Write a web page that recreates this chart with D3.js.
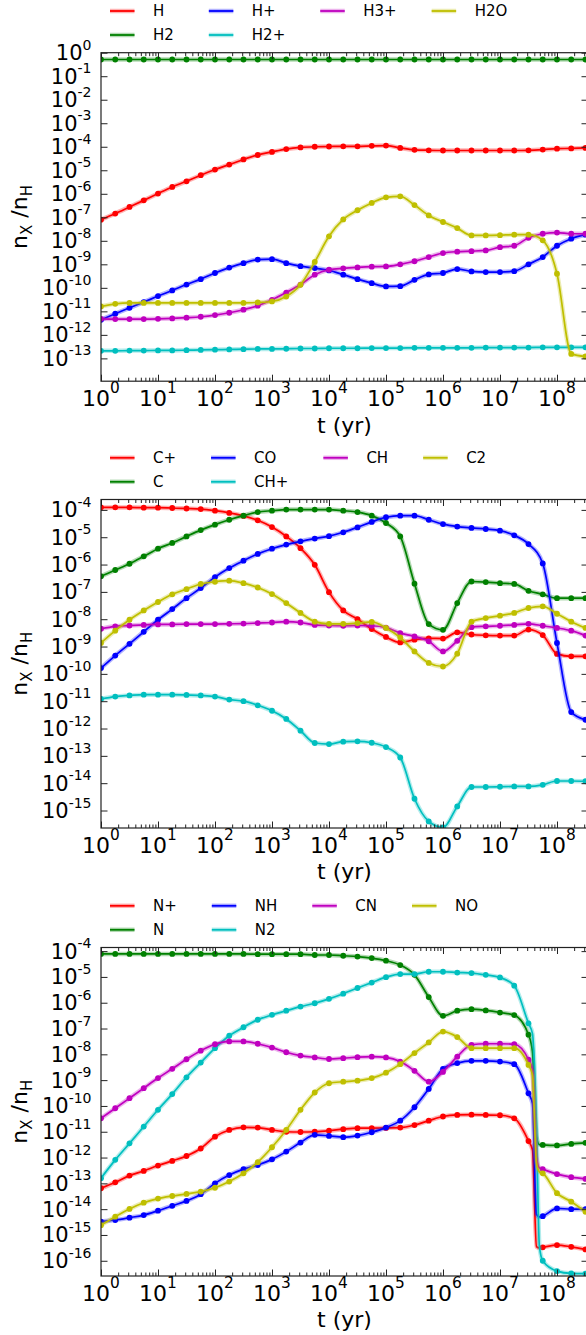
<!DOCTYPE html>
<html>
<head>
<meta charset="utf-8">
<script src="https://cdnjs.cloudflare.com/ajax/libs/d3/7.8.5/d3.min.js"></script>
<style>
body { margin: 0; background: #fff; }
svg { display: block; font-family: "DejaVu Sans", sans-serif; }
</style>
</head>
<body>
<svg id="fig" width="586" height="1335"></svg>
<script>
// time grid (log10 of t in yr) where the model output is sampled
var logT = [0, 0.25, 0.5, 0.75, 1, 1.25, 1.5, 1.75, 2, 2.25, 2.5, 2.75, 3, 3.25, 3.5, 3.75,
            4, 4.25, 4.5, 4.75, 5, 5.25, 5.5, 5.75, 6, 6.25, 6.5, 6.75, 7, 7.25, 7.5, 7.75,
            8, 8.25, 8.5];

// abundances are log10(n_X/n_H)
// --- hydrogen ---
var hH    = [-7.10,-6.84,-6.56,-6.28,-5.99,-5.71,-5.47,-5.21,-4.97,-4.76,-4.54,-4.35,-4.22,-4.10,-4.03,-4.00,-3.99,-3.98,-3.98,-3.96,-3.95,-4.05,-4.13,-4.15,-4.16,-4.16,-4.16,-4.16,-4.16,-4.16,-4.15,-4.12,-4.08,-4.07,-4.05];
var hH2   = [-0.29,-0.29,-0.29,-0.29,-0.29,-0.29,-0.29,-0.29,-0.29,-0.29,-0.29,-0.29,-0.29,-0.29,-0.29,-0.29,-0.29,-0.29,-0.29,-0.29,-0.29,-0.29,-0.29,-0.29,-0.29,-0.29,-0.29,-0.29,-0.29,-0.29,-0.29,-0.29,-0.29,-0.29,-0.29];
var hHp   = [-11.36,-11.10,-10.85,-10.61,-10.35,-10.11,-9.86,-9.63,-9.37,-9.14,-8.95,-8.80,-8.78,-8.95,-9.08,-9.16,-9.26,-9.44,-9.63,-9.80,-9.94,-9.93,-9.66,-9.43,-9.37,-9.20,-9.30,-9.33,-9.33,-9.29,-9.00,-8.69,-8.21,-7.91,-7.74];
var hH2p  = [-12.68,-12.68,-12.67,-12.67,-12.66,-12.66,-12.65,-12.64,-12.63,-12.62,-12.61,-12.60,-12.60,-12.59,-12.58,-12.58,-12.57,-12.57,-12.57,-12.56,-12.56,-12.56,-12.55,-12.55,-12.55,-12.55,-12.55,-12.54,-12.54,-12.54,-12.54,-12.53,-12.53,-12.53,-12.53];
var hH3p  = [-11.32,-11.33,-11.33,-11.33,-11.32,-11.30,-11.27,-11.23,-11.16,-11.06,-10.93,-10.76,-10.51,-10.20,-9.86,-9.44,-9.23,-9.17,-9.13,-9.10,-9.09,-9.00,-8.87,-8.69,-8.52,-8.46,-8.44,-8.41,-8.27,-8.21,-7.87,-7.70,-7.65,-7.70,-7.70];
var hH2O  = [-10.79,-10.68,-10.64,-10.64,-10.64,-10.64,-10.64,-10.64,-10.64,-10.64,-10.64,-10.62,-10.58,-10.37,-9.87,-8.90,-7.81,-7.09,-6.70,-6.39,-6.15,-6.11,-6.48,-6.92,-7.20,-7.46,-7.77,-7.77,-7.76,-7.74,-7.74,-7.98,-9.40,-12.81,-12.92];

// --- carbon ---
var cCp   = [-3.91,-3.91,-3.91,-3.92,-3.92,-3.93,-3.95,-3.97,-4.03,-4.11,-4.22,-4.38,-4.63,-4.97,-5.40,-6.01,-7.01,-7.68,-8.00,-8.36,-8.65,-8.85,-8.75,-8.70,-8.71,-8.48,-8.56,-8.59,-8.60,-8.60,-8.38,-8.58,-9.27,-9.36,-9.36];
var cC    = [-6.43,-6.20,-5.97,-5.70,-5.42,-5.21,-4.97,-4.74,-4.54,-4.36,-4.21,-4.08,-4.03,-3.99,-3.99,-3.99,-3.99,-4.03,-4.08,-4.21,-4.48,-4.97,-6.70,-8.18,-8.39,-7.41,-6.62,-6.64,-6.68,-6.71,-6.96,-7.09,-7.23,-7.23,-7.23];
var cCO   = [-9.79,-9.33,-8.90,-8.46,-8.02,-7.63,-7.23,-6.86,-6.46,-6.13,-5.86,-5.61,-5.42,-5.27,-5.15,-5.05,-4.96,-4.82,-4.64,-4.44,-4.27,-4.21,-4.21,-4.36,-4.52,-4.61,-4.66,-4.70,-4.76,-4.93,-5.25,-5.96,-8.87,-11.40,-11.68];
var cCHp  = [-10.92,-10.83,-10.79,-10.76,-10.76,-10.76,-10.77,-10.79,-10.83,-10.94,-11.00,-11.15,-11.35,-11.65,-12.08,-12.53,-12.57,-12.48,-12.47,-12.52,-12.68,-13.06,-14.57,-15.40,-15.62,-14.85,-14.14,-14.14,-14.13,-14.12,-14.12,-14.06,-13.92,-13.92,-13.93];
var cCH   = [-8.35,-8.26,-8.23,-8.21,-8.19,-8.19,-8.18,-8.18,-8.18,-8.17,-8.16,-8.14,-8.12,-8.09,-8.12,-8.21,-8.23,-8.24,-8.23,-8.24,-8.31,-8.51,-8.63,-8.81,-9.18,-8.79,-8.29,-8.26,-8.24,-8.21,-8.17,-8.24,-8.32,-8.42,-8.60];
var cC2   = [-8.87,-8.42,-8.02,-7.68,-7.37,-7.09,-6.90,-6.71,-6.63,-6.59,-6.68,-6.84,-7.08,-7.41,-7.77,-8.09,-8.17,-8.17,-8.14,-8.10,-8.32,-8.67,-9.18,-9.60,-9.73,-9.26,-8.09,-7.96,-7.87,-7.77,-7.59,-7.53,-7.80,-8.09,-8.32];

// --- nitrogen ---
var nNp   = [-13.19,-12.96,-12.70,-12.52,-12.31,-12.13,-11.94,-11.65,-11.19,-10.93,-10.83,-10.84,-10.93,-11.00,-11.01,-11.00,-10.96,-10.90,-10.86,-10.86,-10.85,-10.84,-10.74,-10.57,-10.41,-10.35,-10.34,-10.35,-10.36,-10.48,-11.36,-15.48,-15.39,-15.46,-15.56];
var nN    = [-4.11,-4.11,-4.11,-4.11,-4.11,-4.11,-4.11,-4.11,-4.11,-4.11,-4.11,-4.12,-4.12,-4.12,-4.12,-4.15,-4.15,-4.18,-4.21,-4.27,-4.37,-4.54,-4.92,-5.78,-6.51,-6.31,-6.25,-6.30,-6.38,-6.48,-7.24,-11.51,-11.53,-11.47,-11.43];
var nNH   = [-14.48,-14.42,-14.33,-14.23,-14.06,-13.87,-13.68,-13.42,-13.00,-12.68,-12.45,-12.29,-12.07,-11.77,-11.42,-11.12,-11.16,-11.21,-11.15,-11.02,-10.84,-10.57,-10.05,-9.34,-8.56,-8.34,-8.25,-8.25,-8.28,-8.38,-9.51,-14.27,-13.97,-14.00,-14.00];
var nN2   = [-12.80,-12.09,-11.45,-10.80,-10.15,-9.54,-8.89,-8.32,-7.76,-7.28,-6.95,-6.66,-6.47,-6.31,-6.15,-6.02,-5.85,-5.65,-5.43,-5.22,-5.01,-4.89,-4.89,-4.80,-4.80,-4.83,-4.85,-4.92,-5.02,-5.34,-6.80,-16.00,-16.40,-16.49,-16.50];
var nCN   = [-10.48,-10.09,-9.70,-9.31,-8.92,-8.56,-8.19,-7.86,-7.61,-7.50,-7.50,-7.59,-7.74,-7.92,-8.05,-8.12,-8.18,-8.15,-8.11,-8.09,-8.12,-8.28,-8.64,-9.06,-8.68,-8.09,-7.63,-7.59,-7.59,-7.61,-8.21,-12.45,-12.64,-12.76,-12.83];
var nNO   = [-14.62,-14.29,-13.99,-13.75,-13.59,-13.49,-13.41,-13.32,-13.17,-12.93,-12.61,-12.18,-11.60,-10.93,-10.15,-9.48,-9.12,-9.06,-9.02,-8.92,-8.71,-8.38,-7.95,-7.54,-7.12,-7.33,-7.76,-7.76,-7.76,-7.76,-8.41,-12.61,-13.38,-13.71,-14.10];

// extra output steps through the collapse near 4e7 yr (no markers there)
var nExtraT  = [7.57, 7.64, 7.69];
var nNpX     = [-11.70, -15.45, -15.50];
var nNX      = [-7.90, -11.20, -11.50];
var nNHX     = [-9.90, -14.20, -14.30];
var nN2X     = [-7.20, -10.80, -15.40];
var nCNX     = [-8.60, -12.00, -12.40];
var nNOX     = [-8.80, -12.20, -12.55];

var RED = "#ff0000", GREEN = "#008000", BLUE = "#0000ff",
    CYAN = "#00bfbf", MAGENTA = "#bf00bf", YELLOW = "#bfbf00";

var panels = [
  { top: 52.7, ymin: 1.07e-14, ymax: 1, extraT: [],
    series: [
      {name: "H",   color: RED,     v: hH},
      {name: "H2",  color: GREEN,   v: hH2},
      {name: "H+",  color: BLUE,    v: hHp},
      {name: "H2+", color: CYAN,    v: hH2p},
      {name: "H3+", color: MAGENTA, v: hH3p},
      {name: "H2O", color: YELLOW,  v: hH2O}
    ]},
  { top: 499.5, ymin: 2.29e-16, ymax: 2.4e-4, extraT: [],
    series: [
      {name: "C+",  color: RED,     v: cCp},
      {name: "C",   color: GREEN,   v: cC},
      {name: "CO",  color: BLUE,    v: cCO},
      {name: "CH+", color: CYAN,    v: cCHp},
      {name: "CH",  color: MAGENTA, v: cCH},
      {name: "C2",  color: YELLOW,  v: cC2}
    ]},
  { top: 947.5, ymin: 2.57e-17, ymax: 1.38e-4, extraT: nExtraT,
    series: [
      {name: "N+",  color: RED,     v: nNp, extra: nNpX},
      {name: "N",   color: GREEN,   v: nN,  extra: nNX},
      {name: "NH",  color: BLUE,    v: nNH, extra: nNHX},
      {name: "N2",  color: CYAN,    v: nN2, extra: nN2X},
      {name: "CN",  color: MAGENTA, v: nCN, extra: nCNX},
      {name: "NO",  color: YELLOW,  v: nNO, extra: nNOX}
    ]}
];

var svg = d3.select("#fig");
var left = 101, right = 588, H = 328.5;
var tMax = 3.5e8;
var x = d3.scaleLog().domain([1, tMax]).range([left, right]);

var majorX = [1, 10, 100, 1e3, 1e4, 1e5, 1e6, 1e7, 1e8];
var minorX = [];
majorX.forEach(function(m) {
	for (var d = 2; d <= 9; d++) if (m * d <= tMax) minorX.push(m * d);
});

// "10" with a raised exponent
function powLabel(sel, e, big, small, rise) {
	sel.append("tspan").attr("font-size", big).text("10");
	sel.append("tspan").attr("font-size", small).attr("dy", -rise).text(e);
}

function drawPanel(p, idx) {
	var g = svg.append("g");
	var bottom = p.top + H;
	var y = d3.scaleLog().domain([p.ymin, p.ymax]).range([bottom, p.top]);

	var clipId = "clip" + idx;
	svg.append("clipPath").attr("id", clipId)
	   .append("rect")
	   .attr("x", left).attr("y", p.top)
	   .attr("width", right - left).attr("height", H);

	var line = d3.line()
		.x(function(d) { return x(Math.pow(10, d[0])); })
		.y(function(d) { return y(Math.pow(10, d[1])); })
		.curve(d3.curveMonotoneX);

	var plot = g.append("g").attr("clip-path", "url(#" + clipId + ")");
	p.series.forEach(function(s) {
		var pts = logT.map(function(t, k) { return [t, s.v[k]]; });
		if (s.extra) {
			s.extra.forEach(function(v, k) { pts.push([p.extraT[k], v]); });
			pts.sort(function(a, b) { return a[0] - b[0]; });
		}
		var sg = plot.append("g");
		sg.append("path").attr("d", line(pts))
		  .attr("fill", "none").attr("stroke", s.color)
		  .attr("stroke-width", 4.5).attr("stroke-opacity", 0.3);
		sg.append("path").attr("d", line(pts))
		  .attr("fill", "none").attr("stroke", s.color)
		  .attr("stroke-width", 1.7);
		sg.selectAll("circle")
		  .data(logT.map(function(t, k) { return [t, s.v[k]]; }))
		  .enter().append("circle")
		  .attr("cx", function(d) { return x(Math.pow(10, d[0])); })
		  .attr("cy", function(d) { return y(Math.pow(10, d[1])); })
		  .attr("r", 2.9)
		  .attr("fill", s.color);
	});

	// ticks, all pointing inwards
	var axes = g.append("g").attr("stroke-width", 1);
	function addAxis(axis, tx, ty) {
		var a = axes.append("g").attr("transform", "translate(" + tx + "," + ty + ")")
			.call(axis);
		a.select(".domain").remove();
		a.selectAll("text").remove();
		a.selectAll("line").attr("stroke", "#222");
	}
	addAxis(d3.axisBottom(x).tickValues(majorX).tickSize(-6.5).tickSizeOuter(0), 0, bottom);
	addAxis(d3.axisBottom(x).tickValues(minorX).tickSize(-3.5).tickSizeOuter(0), 0, bottom);
	addAxis(d3.axisTop(x).tickValues(majorX).tickSize(-6.5).tickSizeOuter(0), 0, p.top);
	addAxis(d3.axisTop(x).tickValues(minorX).tickSize(-3.5).tickSizeOuter(0), 0, p.top);

	var yExp = d3.range(Math.ceil(Math.log10(p.ymin)), Math.floor(Math.log10(p.ymax) + 1e-9) + 1);
	var yTicks = yExp.map(function(e) { return Math.pow(10, e); });
	addAxis(d3.axisLeft(y).tickValues(yTicks).tickSize(-6.5).tickSizeOuter(0), left, 0);
	addAxis(d3.axisRight(y).tickValues(yTicks).tickSize(-6.5).tickSizeOuter(0), right, 0);

	// spines (right one sits just past the page edge)
	g.append("rect")
	 .attr("x", left).attr("y", p.top)
	 .attr("width", right - left).attr("height", H)
	 .attr("fill", "none").attr("stroke", "#222").attr("stroke-width", 1.2);

	// tick labels
	majorX.forEach(function(v, i) {
		var t = g.append("text")
			.attr("x", x(v)).attr("y", bottom + 24.7)
			.attr("text-anchor", "middle").attr("fill", "#000");
		powLabel(t, String(i), 22, 15.4, 13);
	});
	// decades are packed tightly on the y axes, so these run a touch smaller
	yExp.forEach(function(e) {
		var t = g.append("text")
			.attr("x", 91.5).attr("y", y(Math.pow(10, e)) + 7.5)
			.attr("text-anchor", "end").attr("fill", "#000");
		powLabel(t, String(e), 21, 14, 10.5);
	});

	// axis titles
	g.append("text")
	 .attr("x", (left + right) / 2).attr("y", bottom + 51.4)
	 .attr("text-anchor", "middle").attr("font-size", 22)
	 .text("t (yr)");
	var yl = g.append("text")
	 .attr("transform", "translate(27," + (p.top + H / 2) + ") rotate(-90)")
	 .attr("text-anchor", "middle").attr("font-size", 22);
	yl.append("tspan").text("n");
	yl.append("tspan").attr("font-size", 15).attr("dy", 5).text("X");
	yl.append("tspan").attr("dy", -5).text(" /n");
	yl.append("tspan").attr("font-size", 15).attr("dy", 5).text("H");

	// legend: 4 columns filled top to bottom
	var lg = g.append("g").attr("font-size", 15);
	var rows = [p.top - 41.7, p.top - 17.7];
	var colX = 110;
	for (var c = 0; c < 4; c++) {
		var items = c < 2 ? [2 * c, 2 * c + 1] : [c + 2];
		var maxW = 0;
		items.forEach(function(k, r) {
			var s = p.series[k];
			lg.append("line")
			  .attr("x1", colX).attr("x2", colX + 24.5)
			  .attr("y1", rows[r]).attr("y2", rows[r])
			  .attr("stroke", s.color).attr("stroke-width", 4.5).attr("stroke-opacity", 0.3);
			lg.append("line")
			  .attr("x1", colX).attr("x2", colX + 24.5)
			  .attr("y1", rows[r]).attr("y2", rows[r])
			  .attr("stroke", s.color).attr("stroke-width", 1.8);
			var txt = lg.append("text")
			  .attr("x", colX + 43).attr("y", rows[r] + 5.4)
			  .text(s.name);
			maxW = Math.max(maxW, txt.node().getComputedTextLength());
		});
		colX += 24.5 + 18.5 + maxW + 35;
	}
}

panels.forEach(drawPanel);
</script>
</body>
</html>
